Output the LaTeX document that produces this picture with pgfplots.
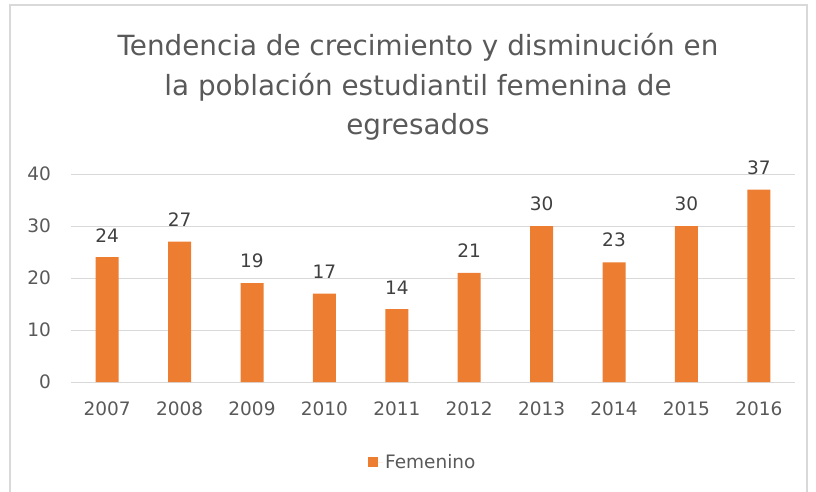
\documentclass[border=0pt]{standalone}
\usepackage{pgfplots}
\pgfplotsset{compat=1.18}
\usepackage{fontspec}
\setmainfont{DejaVu Sans}
\definecolor{barc}{HTML}{ED7D31}
\definecolor{txt}{HTML}{595959}
\definecolor{lab}{HTML}{404040}
\definecolor{gridc}{HTML}{D9D9D9}
\begin{document}
\begin{tikzpicture}
\useasboundingbox (-71pt,-109pt) rectangle (745pt,382pt);
\draw[gridc, line width=1.5pt] (-61pt,-130pt) rectangle (736pt,377pt);
\begin{axis}[at={(0,0)}, anchor=south west, scale only axis,
  width=724pt, height=208pt,
  xmin=-0.5, xmax=9.5, ymin=0, ymax=40,
  ytick={0,10,20,30,40}, xtick={0,...,9},
  xticklabels={2007,2008,2009,2010,2011,2012,2013,2014,2015,2016},
  axis line style={draw=none}, major tick length=0pt,
  ymajorgrids, grid style={gridc, line width=1pt},
  /pgf/number format/assume math mode=true,
  tick label style={font=\fontsize{18.5}{18.5}\selectfont, text=txt, inner sep=0pt},
  yticklabel style={xshift=-20pt},
  xticklabel style={yshift=-20pt},
  ybar, bar width=23pt,
  nodes near coords,
  every node near coord/.append style={font=\fontsize{18.5}{18.5}\selectfont, text=lab, inner sep=0pt, yshift=15pt},
  legend style={at={(0.486,-0.385)}, anchor=center, draw=none, fill=none,
    font=\fontsize{18.5}{18.5}\selectfont, text=txt},
  legend image code/.code={\fill[barc] (0pt,-5pt) rectangle (10pt,5pt); \path (0pt,0pt) -- (15pt,0pt);},
]
\addplot[fill=barc, draw=none] coordinates {(0,24) (1,27) (2,19) (3,17) (4,14) (5,21) (6,30) (7,23) (8,30) (9,37)};
\addlegendentry{Femenino}
\end{axis}
\node[align=center, font=\fontsize{27.8}{39.5}\selectfont, text=txt] at (347pt,295pt) {Tendencia de crecimiento y disminución en\\la población estudiantil femenina de\\egresados};
\end{tikzpicture}
\end{document}
